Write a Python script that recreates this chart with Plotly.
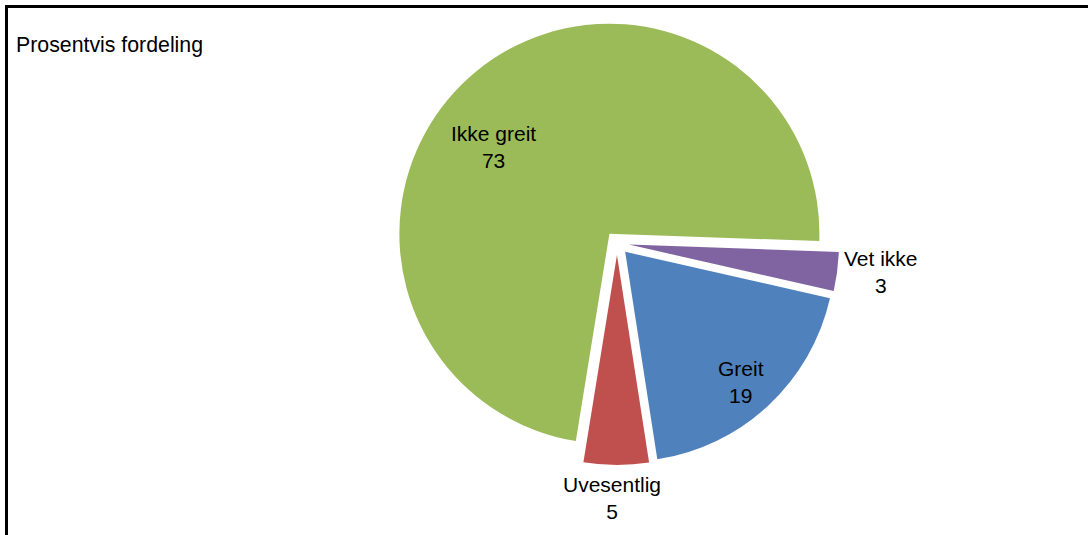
import plotly.graph_objects as go

# Data
labels = ["Vet ikke", "Greit", "Uvesentlig", "Ikke greit"]
values = [3, 19, 5, 73]
colors = ["#8064A2", "#4F81BD", "#C0504D", "#9BBB59"]
pulls = [0.057, 0.057, 0.057, 0.057]
title_text = "Prosentvis fordeling"

# label positions in pixels (x, y from top)
label_px = {
    "Ikke greit": (493, 147),
    "Greit": (741, 382),
    "Vet ikke": (881, 272),
    "Uvesentlig": (612, 498),
}

W, H = 1088, 535

fig = go.Figure(
    go.Pie(
        labels=labels,
        values=values,
        marker=dict(colors=colors, line=dict(width=0)),
        pull=pulls,
        sort=False,
        direction="clockwise",
        rotation=92,
        textinfo="none",
        hoverinfo="label+value",
        showlegend=False,
        domain=dict(x=[0.3421, 0.7921], y=[0.1308, 0.9607]),
    )
)

annotations = []
for lab, val in zip(labels, values):
    px, py = label_px[lab]
    annotations.append(
        dict(
            x=px / W, y=1 - py / H, xref="paper", yref="paper",
            text=f"{lab}<br>{val}", showarrow=False,
            xanchor="center", yanchor="middle", align="center",
            font=dict(family="Liberation Sans, Arial, sans-serif", size=21, color="#000000"),
        )
    )
annotations.append(
    dict(
        x=14 / W, y=1 - 45 / H, xref="paper", yref="paper",
        text=title_text, showarrow=False, xanchor="left", yanchor="middle",
        font=dict(family="Liberation Sans, Arial, sans-serif", size=21.3, color="#000000"),
    )
)

fig.update_layout(
    width=W, height=H,
    margin=dict(l=0, r=0, t=0, b=0),
    paper_bgcolor="white",
    plot_bgcolor="white",
    annotations=annotations,
    shapes=[
        dict(
            type="rect", xref="paper", yref="paper",
            x0=6.5 / W, x1=1.05, y0=-0.05, y1=1 - 6.5 / H,
            line=dict(color="black", width=3), fillcolor="rgba(0,0,0,0)",
            layer="above",
        )
    ],
)

fig.write_html(
    "out.html",
    config={"displayModeBar": False},
    post_script="document.body.style.margin='0';document.body.style.overflow='hidden';",
)
